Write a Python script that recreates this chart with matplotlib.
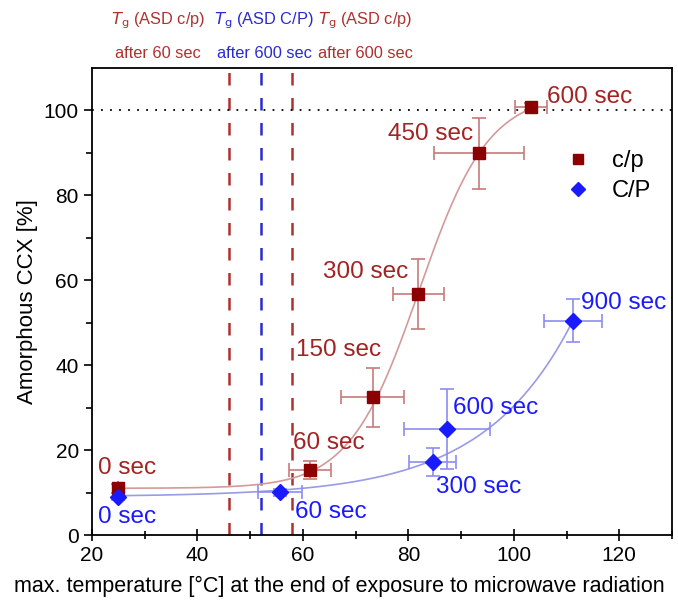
import numpy as np
import matplotlib.pyplot as plt
from matplotlib.lines import Line2D

plt.rcParams['font.family'] = ['Liberation Sans', 'DejaVu Sans']

# c/p series
cp_x = [25, 61.4, 73.2, 81.9, 93.4, 103.3]
cp_y = [11.0, 15.3, 32.4, 56.8, 89.9, 100.9]
cp_xerr = [0, 4.0, 6.0, 4.8, 8.6, 3.0]
cp_yerr = [1.0, 2.1, 7.0, 8.2, 8.4, 0.8]
cp_labels = ["0 sec", "60 sec", "150 sec", "300 sec", "450 sec", "600 sec"]

# C/P series
CP_x = [25, 55.7, 84.6, 87.3, 111.2]
CP_y = [9.0, 10.1, 17.3, 25.0, 50.5]
CP_xerr = [0, 4.2, 4.5, 8.2, 5.5]
CP_yerr = [0.8, 0.8, 3.3, 9.5, 5.0]
CP_labels = ["0 sec", "60 sec", "300 sec", "600 sec", "900 sec"]

# fit parameters (Boltzmann for c/p, exponential growth for C/P)
cp_fit = dict(A1=11.0, A2=104.0, x0=82.0, dx=6.6)
CP_fit = dict(y0=9.0, A=41.0, x1=111.0, t=16.9)

# Tg lines
tg_x = [46, 52, 58]
tg_colors = ["#b03030", "#2a2ad0", "#b03030"]
tg_line1 = ["(ASD c/p)", "(ASD C/P)", "(ASD c/p)"]
tg_line2 = ["after 60 sec", "after 600 sec", "after 600 sec"]

red = "#8b0000"
red_txt = "#a32222"
blue = "#1a1aff"

fig = plt.figure(figsize=(6.78, 6.05), dpi=100)
ax = fig.add_axes([0.1357, 0.1157, 0.8555, 0.7719])

# fit curves
xs = np.linspace(cp_x[0], cp_x[-1], 300)
ys = cp_fit['A1'] + (cp_fit['A2'] - cp_fit['A1']) / (1 + np.exp(-(xs - cp_fit['x0']) / cp_fit['dx']))
ax.plot(xs, ys, color="#d49a9a", lw=1.2, zorder=2)
xs2 = np.linspace(CP_x[0], CP_x[-1], 300)
ys2 = CP_fit['y0'] + CP_fit['A'] * np.exp((xs2 - CP_fit['x1']) / CP_fit['t'])
ax.plot(xs2, ys2, color="#9a9ae6", lw=1.2, zorder=2)

# Tg lines and reference line
for x, c in zip(tg_x, tg_colors):
    ax.axvline(x, color=c, ls=(0, (5, 5)), lw=1.8, zorder=1)
ax.axhline(100, color="black", ls=(0, (1, 4)), lw=1.3, zorder=1)

# data with error bars
ax.errorbar(cp_x, cp_y, xerr=cp_xerr, yerr=cp_yerr, fmt='s', color=red,
            ms=8, ecolor="#c87a7a", elinewidth=1.2, capsize=5, capthick=1.2,
            zorder=4)
ax.errorbar(CP_x, CP_y, xerr=CP_xerr, yerr=CP_yerr, fmt='D', color=blue,
            ms=8, ecolor="#8c8cf2", elinewidth=1.2, capsize=5, capthick=1.2,
            zorder=4)

# point labels
cp_pos = [(21.1, 15.8, 'left'), (58.2, 21.7, 'left'), (58.7, 43.5, 'left'),
          (71.8, 62.0, 'center'), (84.2, 94.5, 'center'), (114.4, 103.1, 'center')]
for (tx, ty, ha), s in zip(cp_pos, cp_labels):
    ax.text(tx, ty, s, color=red_txt, fontsize=17.5, ha=ha, va='center')
CP_pos = [(21.1, 4.3, 'left'), (58.5, 5.5, 'left'), (93.3, 11.4, 'center'),
          (96.5, 29.9, 'center'), (120.9, 54.7, 'center')]
for (tx, ty, ha), s in zip(CP_pos, CP_labels):
    ax.text(tx, ty, s, color=blue, fontsize=17.5, ha=ha, va='center')

# Tg annotations above the axes
for x, c, l1, l2 in zip([158, 264, 365], tg_colors, tg_line1, tg_line2):
    fig.text(x / 678, 1 - 21 / 605, r"$T_\mathrm{g}$ " + l1, color=c,
             fontsize=11.8, ha='center', va='center')
    fig.text(x / 678, 1 - 53 / 605, l2, color=c, fontsize=11.8,
             ha='center', va='center')

ax.set_xlim(20, 130)
ax.set_ylim(0, 110)
ax.set_xticks(np.arange(20, 121, 20))
ax.set_xticks(np.arange(30, 131, 20), minor=True)
ax.set_yticks(np.arange(0, 101, 20))
ax.set_yticks(np.arange(10, 110, 20), minor=True)
ax.tick_params(labelsize=15, direction='out', length=6, width=1.2)
ax.tick_params(which='minor', direction='out', length=4, width=1.2)
ax.tick_params(axis='x', which='major', direction='inout', length=9)
ax.tick_params(axis='x', which='minor', direction='inout', length=6)
for sp in ax.spines.values():
    sp.set_linewidth(1.3)

fig.text(339 / 678, 1 - 586 / 605,
         "max. temperature [°C] at the end of exposure to microwave radiation",
         fontsize=15.5, ha='center', va='center')
ax.set_ylabel("Amorphous CCX [%]", fontsize=16, labelpad=4)

handles = [Line2D([], [], ls='none', marker='s', color=red, ms=7, label="c/p"),
           Line2D([], [], ls='none', marker='D', color=blue, ms=7, label="C/P")]
ax.legend(handles=handles, loc='upper right', bbox_to_anchor=(1.0, 0.87),
          frameon=False, fontsize=17, handletextpad=0.9, labelspacing=0.35,
          handlelength=1.0)

fig.savefig("out.png", dpi=100)
